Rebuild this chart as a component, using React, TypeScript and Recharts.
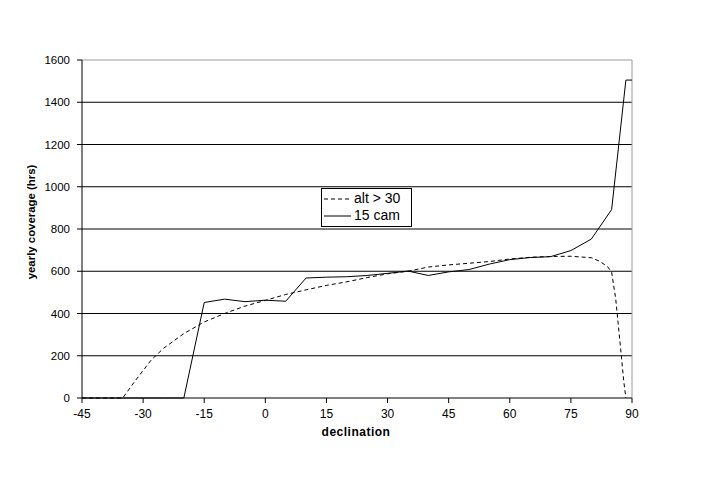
import React from 'react';
import { LineChart, Line, XAxis, YAxis, CartesianGrid, ReferenceLine, Legend, Label } from 'recharts';

// declination (deg) / yearly coverage (hrs)
const altDeclination = [-45, -40, -35, -32, -30, -28, -25, -20, -15, -10, -5, 0, 5, 10, 15, 20, 25, 30, 35, 40, 45, 50, 55, 60, 65, 70, 75, 80, 82, 84, 85, 86, 87, 88, 88.5];
const altCoverage = [0, 0, 0, 80, 130, 180, 235, 305, 360, 400, 435, 462, 490, 512, 533, 550, 570, 588, 600, 620, 630, 638, 646, 658, 666, 670, 671, 664, 648, 622, 595, 470, 275, 75, 0];

const camDeclination = [-45, -40, -35, -30, -25, -20, -15, -10, -5, 0, 5, 10, 15, 20, 25, 30, 35, 40, 45, 50, 55, 60, 65, 70, 75, 80, 85, 88.5, 90];
const camCoverage = [0, 0, 0, 0, 0, 0, 452, 468, 456, 463, 458, 568, 572, 574, 580, 590, 601, 580, 597, 608, 634, 655, 665, 669, 698, 752, 892, 1505, 1505];

const xTicks = [-45, -30, -15, 0, 15, 30, 45, 60, 75, 90];
const yTicks = [0, 200, 400, 600, 800, 1000, 1200, 1400, 1600];

const FONT = '"Liberation Sans", Arial, sans-serif';
const DASH = '4 3';

const altData = altDeclination.map((x, i) => ({ x, y: altCoverage[i] }));
const camData = camDeclination.map((x, i) => ({ x, y: camCoverage[i] }));

function LegendBox() {
  const rows = [
    { label: 'alt > 30', dash: DASH },
    { label: '15 cam', dash: undefined },
  ];
  return (
    <div
      style={{
        width: 89,
        height: 36,
        border: '1px solid #000',
        background: '#fff',
        fontFamily: FONT,
        fontSize: 14,
        color: '#000',
        paddingTop: 1,
      }}
    >
      {rows.map((r) => (
        <div key={r.label} style={{ display: 'flex', alignItems: 'center', height: 17 }}>
          <svg width={30} height={10} style={{ marginLeft: 2 }}>
            <line x1={0} y1={5} x2={27} y2={5} stroke="#000" strokeWidth={1} strokeDasharray={r.dash} />
          </svg>
          <span style={{ marginLeft: 0, lineHeight: '17px' }}>{r.label}</span>
        </div>
      ))}
    </div>
  );
}

export default function App() {
  return (
    <LineChart
      width={700}
      height={483}
      margin={{ top: 52, right: 76, bottom: 63, left: 0 }}
      style={{ fontFamily: FONT }}
    >
      <CartesianGrid horizontal vertical={false} stroke="#000" horizontalValues={[200, 400, 600, 800, 1000, 1200, 1400]} />
      <ReferenceLine y={1600} stroke="#9a9a9a" />
      <ReferenceLine x={90} stroke="#9a9a9a" />
      <XAxis
        type="number"
        dataKey="x"
        domain={[-45, 90]}
        ticks={xTicks}
        interval={0}
        allowDataOverflow
        height={30}
        stroke="#000"
        tickSize={5}
        tickMargin={6}
        tick={{ fill: '#000', fontSize: 12, fontFamily: FONT }}
      >
        <Label
          content={() => (
            <text x={348} y={428} textAnchor="middle" fontFamily={FONT} fontSize={12} fontWeight="bold" letterSpacing={0.5} fill="#000">
              declination
            </text>
          )}
        />
      </XAxis>
      <YAxis
        type="number"
        domain={[0, 1600]}
        ticks={yTicks}
        interval={0}
        width={74}
        stroke="#000"
        tickSize={5}
        tickMargin={7}
        tick={{ fill: '#000', fontSize: 11.5, fontFamily: FONT }}
      >
        <Label
          content={() => (
            <text x={27} y={214} transform="rotate(-90, 27, 214)" textAnchor="middle" fontFamily={FONT} fontSize={11.4} fontWeight="bold" fill="#000">
              yearly coverage (hrs)
            </text>
          )}
        />
      </YAxis>
      <Legend
        verticalAlign="middle"
        align="center"
        layout="horizontal"
        wrapperStyle={{ left: 313, top: 180, width: 91, height: 38 }}
        content={() => <LegendBox />}
      />
      <Line
        data={altData}
        dataKey="y"
        name="alt > 30"
        type="linear"
        stroke="#000"
        strokeWidth={1}
        strokeDasharray={DASH}
        dot={false}
        activeDot={false}
        isAnimationActive={false}
      />
      <Line
        data={camData}
        dataKey="y"
        name="15 cam"
        type="linear"
        stroke="#000"
        strokeWidth={1}
        dot={false}
        activeDot={false}
        isAnimationActive={false}
      />
    </LineChart>
  );
}
